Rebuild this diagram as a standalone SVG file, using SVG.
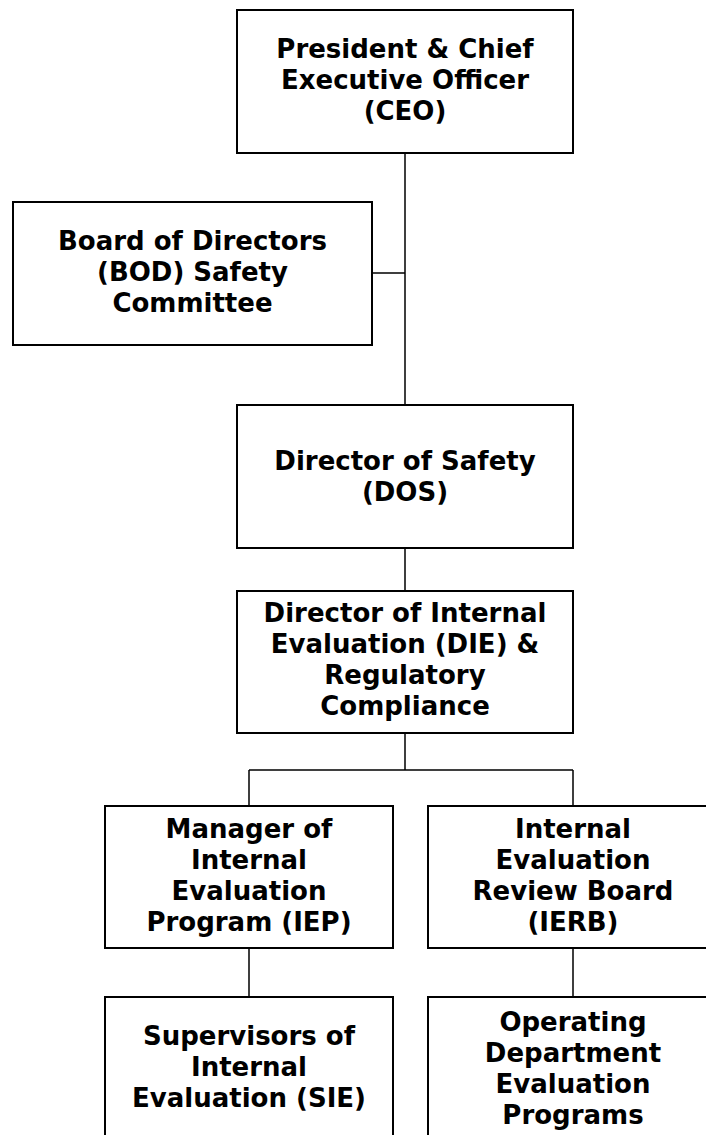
<svg xmlns="http://www.w3.org/2000/svg" width="706" height="1135" viewBox="0 0 706 1135">
<style>
.box{fill:#fff;stroke:#000;stroke-width:2}
.t{font-family:"DejaVu Sans",Verdana,sans-serif;font-weight:bold;font-size:26px;fill:#000;text-anchor:middle}
.c{fill:none;stroke:#000;stroke-width:1.5}
</style>
<rect width="706" height="1135" fill="#fff"/>
<g id="connectors">
<path class="c" d="M405 153V405M372 273H405M405 548V591M405 733V770M249 770H573M249 770V806M573 770V806M249 948V997M573 948V997"/>
</g>
<g id="ceo">
<rect class="box" x="237" y="10" width="336" height="143"/>
<text class="t" x="405" y="58">President &amp; Chief</text>
<text class="t" x="405" y="89">Executive Officer</text>
<text class="t" x="405" y="120">(CEO)</text>
</g>
<g id="bod">
<rect class="box" x="13" y="202" width="359" height="143"/>
<text class="t" x="192.5" y="250">Board of Directors</text>
<text class="t" x="192.5" y="281">(BOD) Safety</text>
<text class="t" x="192.5" y="312">Committee</text>
</g>
<g id="dos">
<rect class="box" x="237" y="405" width="336" height="143"/>
<text class="t" x="405" y="470">Director of Safety</text>
<text class="t" x="405" y="501">(DOS)</text>
</g>
<g id="die">
<rect class="box" x="237" y="591" width="336" height="142"/>
<text class="t" x="405" y="622">Director of Internal</text>
<text class="t" x="405" y="653">Evaluation (DIE) &amp;</text>
<text class="t" x="405" y="684">Regulatory</text>
<text class="t" x="405" y="715">Compliance</text>
</g>
<g id="iep">
<rect class="box" x="105" y="806" width="288" height="142"/>
<text class="t" x="249" y="838">Manager of</text>
<text class="t" x="249" y="869">Internal</text>
<text class="t" x="249" y="900">Evaluation</text>
<text class="t" x="249" y="931">Program (IEP)</text>
</g>
<g id="ierb">
<rect class="box" x="428" y="806" width="290" height="142"/>
<text class="t" x="573" y="838">Internal</text>
<text class="t" x="573" y="869">Evaluation</text>
<text class="t" x="573" y="900">Review Board</text>
<text class="t" x="573" y="931">(IERB)</text>
</g>
<g id="sie">
<rect class="box" x="105" y="997" width="288" height="150"/>
<text class="t" x="249" y="1045">Supervisors of</text>
<text class="t" x="249" y="1076">Internal</text>
<text class="t" x="249" y="1107">Evaluation (SIE)</text>
</g>
<g id="odep">
<rect class="box" x="428" y="997" width="290" height="150"/>
<text class="t" x="573" y="1031">Operating</text>
<text class="t" x="573" y="1062">Department</text>
<text class="t" x="573" y="1093">Evaluation</text>
<text class="t" x="573" y="1124">Programs</text>
</g>
</svg>
